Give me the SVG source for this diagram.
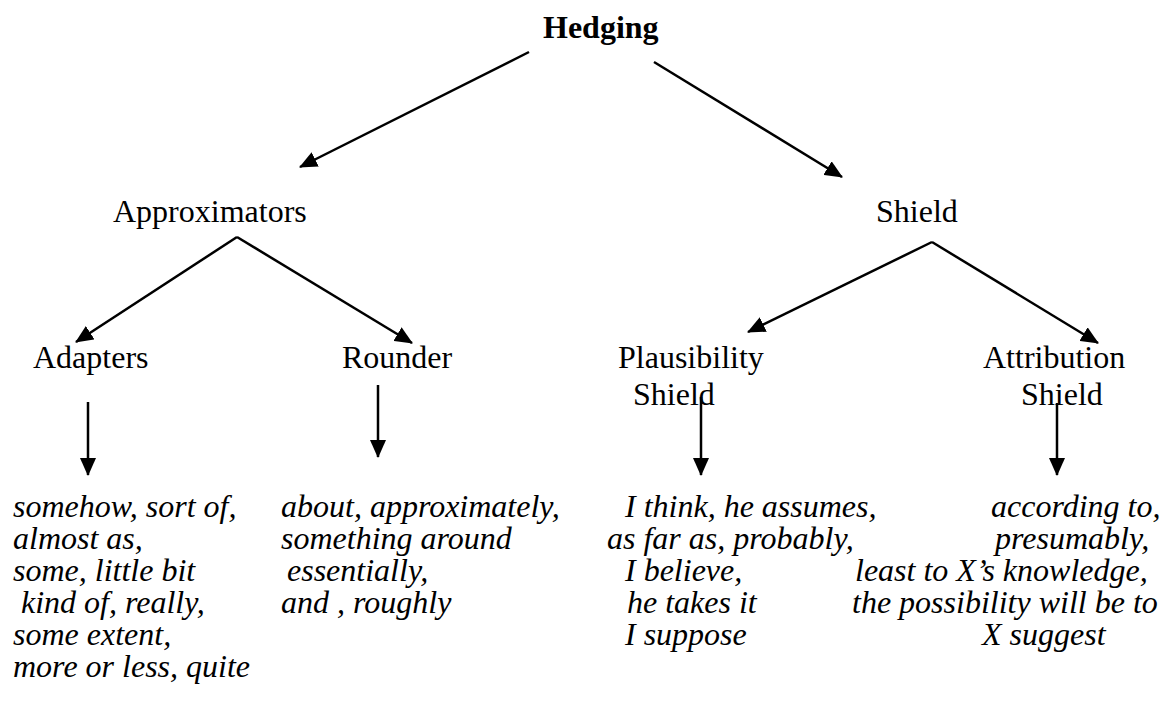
<svg xmlns="http://www.w3.org/2000/svg" width="1169" height="704" viewBox="0 0 1169 704">
<style>
text{font-family:"Liberation Serif","Times New Roman",serif;fill:#000}
.h{font-size:32px}
.b{font-size:32px;font-weight:bold}
.e{font-size:32px;font-style:italic}
.c line{stroke:#000;stroke-width:2.5;marker-end:url(#ah)}
</style>
<defs>
<marker id="ah" viewBox="0 0 18 16" refX="17" refY="8" markerWidth="18" markerHeight="16" markerUnits="userSpaceOnUse" orient="auto">
<path d="M0,0 L18,8 L0,16 z" fill="#000"/>
</marker>
</defs>
<rect width="1169" height="704" fill="#fff"/>
<g id="hedging"><text class="b" x="543" y="38">Hedging</text></g>
<g id="approximators"><text class="h" x="113" y="222">Approximators</text></g>
<g id="shield"><text class="h" x="876" y="222">Shield</text></g>
<g id="adapters"><text class="h" x="33" y="368">Adapters</text></g>
<g id="rounder"><text class="h" x="342" y="368">Rounder</text></g>
<g id="plausibility"><text class="h" x="618" y="368">Plausibility</text><text class="h" x="633" y="405">Shield</text></g>
<g id="attribution"><text class="h" x="983" y="368">Attribution</text><text class="h" x="1021" y="405">Shield</text></g>
<g id="adapters-examples">
<text class="e" x="13" y="517">somehow, sort of,</text>
<text class="e" x="13" y="549">almost as,</text>
<text class="e" x="13" y="581">some, little bit</text>
<text class="e" x="21" y="613">kind of, really,</text>
<text class="e" x="13" y="645">some extent,</text>
<text class="e" x="13" y="677">more or less, quite</text>
</g>
<g id="rounder-examples">
<text class="e" x="281" y="517">about, approximately,</text>
<text class="e" x="281" y="549">something around</text>
<text class="e" x="287" y="581">essentially,</text>
<text class="e" x="281" y="613">and , roughly</text>
</g>
<g id="plausibility-examples">
<text class="e" x="625" y="517">I think, he assumes,</text>
<text class="e" x="607" y="549">as far as, probably,</text>
<text class="e" x="625" y="581">I believe,</text>
<text class="e" x="627" y="613">he takes it</text>
<text class="e" x="625" y="645">I suppose</text>
</g>
<g id="attribution-examples">
<text class="e" x="991" y="517">according to,</text>
<text class="e" x="995" y="549">presumably,</text>
<text class="e" x="855" y="581">least to X’s knowledge,</text>
<text class="e" x="852" y="613">the possibility will be to</text>
<text class="e" x="982" y="645">X suggest</text>
</g>
<g id="connectors" class="c">
<line x1="529" y1="52" x2="300" y2="167"/>
<line x1="654" y1="62" x2="842" y2="177"/>
<line x1="237" y1="237" x2="76" y2="342"/>
<line x1="237" y1="237" x2="412" y2="343"/>
<line x1="932" y1="242" x2="748" y2="332"/>
<line x1="932" y1="242" x2="1098" y2="343"/>
<line x1="88" y1="402" x2="88" y2="475"/>
<line x1="378" y1="385" x2="378" y2="457"/>
<line x1="701" y1="397" x2="701" y2="475"/>
<line x1="1057" y1="403" x2="1057" y2="475"/>
</g>
</svg>
